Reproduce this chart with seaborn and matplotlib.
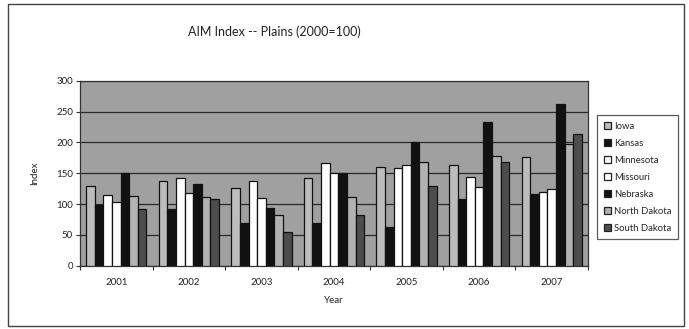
import matplotlib
matplotlib.use("Agg")
import matplotlib.pyplot as plt
from matplotlib.patches import Rectangle, Patch
import numpy as np
import pandas as pd
import seaborn as sns

# AIM index by state, 2000 = 100
years = ["2001", "2002", "2003", "2004", "2005", "2006", "2007"]
states = ["Iowa", "Kansas", "Minnesota", "Missouri", "Nebraska",
          "North Dakota", "South Dakota"]
iowa = [130, 138, 126, 142, 160, 164, 177]
kansas = [99, 92, 69, 69, 63, 108, 116]
minnesota = [114, 143, 138, 166, 158, 144, 120]
missouri = [104, 118, 109, 151, 163, 128, 125]
nebraska = [151, 132, 94, 151, 200, 233, 262]
north_dakota = [113, 111, 83, 111, 168, 178, 198]
south_dakota = [92, 108, 54, 83, 130, 168, 214]
y_ticks = [0, 50, 100, 150, 200, 250, 300]

series = [iowa, kansas, minnesota, missouri, nebraska, north_dakota, south_dakota]
df = pd.DataFrame({
    "Year": np.tile(years, len(states)),
    "State": np.repeat(states, len(years)),
    "Index": np.concatenate(series),
})

fills = {
    "Iowa": "#bcbcbc",
    "Kansas": "#111111",
    "Minnesota": "#ffffff",
    "Missouri": "#ffffff",
    "Nebraska": "#111111",
    "North Dakota": "#b2b2b2",
    "South Dakota": "#4d4d4d",
}

sns.set_theme(style="white")
plt.rcParams["font.family"] = ["Lato", "DejaVu Sans"]

fig = plt.figure(figsize=(6.89, 3.29), dpi=100)
ax = fig.add_axes([80 / 689, 63.3 / 329, 508 / 689, 185 / 329])
ax.set_facecolor("#a0a0a0")

sns.barplot(data=df, x="Year", y="Index", hue="State", hue_order=states,
            palette=fills, width=0.83, edgecolor="#111111", linewidth=0.9,
            saturation=1, errorbar=None, legend=False, ax=ax, zorder=3)

ax.set_ylim(0, 300)
ax.set_xlim(-0.5, len(years) - 0.5)
ax.set_yticks(y_ticks)
ax.yaxis.grid(True, color="#2a2a2a", linewidth=0.9, zorder=1)
ax.set_axisbelow(True)

ax.tick_params(axis="y", which="major", length=3, width=0.8, color="#333333",
               labelsize=7, pad=2, left=True)
ax.tick_params(axis="x", which="major", length=0, labelsize=7, pad=9)
ax.set_xticks(np.arange(len(years) + 1) - 0.5, minor=True)
ax.tick_params(axis="x", which="minor", length=3, width=0.8, color="#333333",
               bottom=True, direction="out")
for lbl in ax.get_xticklabels() + ax.get_yticklabels():
    lbl.set_color("#222222")

for side in ["left", "bottom", "top", "right"]:
    ax.spines[side].set_visible(True)
    ax.spines[side].set_color("#333333")
    ax.spines[side].set_linewidth(0.9)

ax.set_xlabel("Year", fontsize=7, color="#222222", labelpad=6)
ax.set_ylabel("Index", fontsize=7, color="#222222", labelpad=12)

fig.text(274 / 689, 1 - 32 / 329, "AIM Index -- Plains (2000=100)",
         ha="center", va="center", fontsize=9, color="#222222")

# chart border
fig.patches.append(Rectangle((8 / 689, 3 / 329), 676 / 689, 322 / 329,
                             transform=fig.transFigure, fill=False,
                             edgecolor="#444444", linewidth=1.0))

handles = [Patch(facecolor=fills[s], edgecolor="#222222", linewidth=0.9, label=s)
           for s in states]
leg = fig.legend(handles=handles, loc="upper left",
                 bbox_to_anchor=(597 / 689, 1 - 115 / 329),
                 fontsize=6.8, frameon=True, fancybox=False,
                 handlelength=0.8, handleheight=0.8, handletextpad=0.3,
                 labelspacing=0.85, borderpad=0.7, borderaxespad=0)
leg.get_frame().set_edgecolor("#333333")
leg.get_frame().set_linewidth(0.9)

fig.savefig("out.png", dpi=100)
